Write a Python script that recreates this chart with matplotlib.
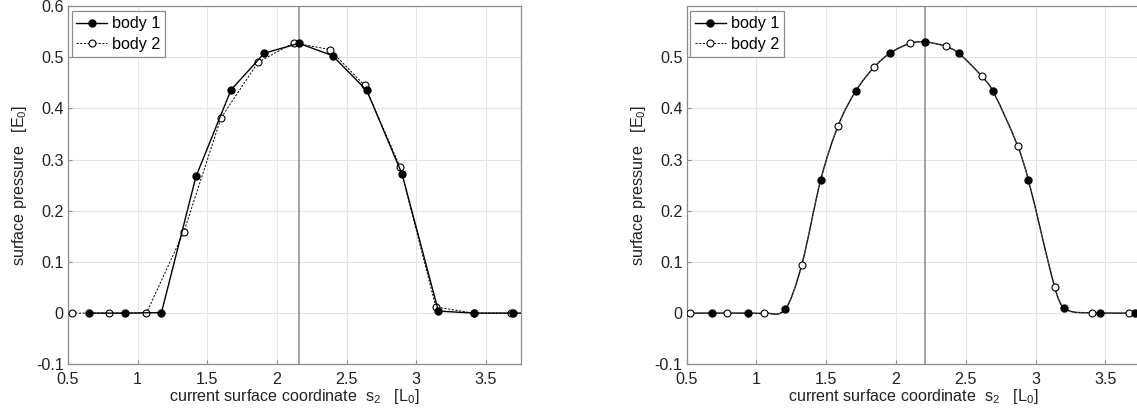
import numpy as np
import matplotlib
matplotlib.use("Agg")
import matplotlib.pyplot as plt
from matplotlib.path import Path
from matplotlib.patches import PathPatch
from matplotlib.lines import Line2D

plt.rcParams["font.family"] = ["Liberation Sans", "DejaVu Sans"]
plt.rcParams["mathtext.fontset"] = "custom"
plt.rcParams["mathtext.rm"] = "Liberation Sans"
plt.rcParams["mathtext.it"] = "Liberation Sans"
plt.rcParams["mathtext.default"] = "regular"

# ---- linear elements (left panel) ----
lin_body1_s = [0.654, 0.909, 1.171, 1.419, 1.670, 1.910, 2.159, 2.399, 2.645, 2.898, 3.159, 3.415, 3.692, 3.94]
lin_body1_p = [0.0, 0.0, 0.001, 0.267, 0.436, 0.508, 0.527, 0.503, 0.435, 0.272, 0.004, 0.0, 0.0, 0.0]
lin_body2_s = [0.526, 0.797, 1.063, 1.332, 1.598, 1.864, 2.120, 2.379, 2.629, 2.885, 3.141, 3.413, 3.679]
lin_body2_p = [0.0, 0.0, 0.0, 0.159, 0.381, 0.490, 0.528, 0.515, 0.445, 0.285, 0.012, 0.0, 0.0]
lin_center = 2.155

# ---- smooth (higher-order) elements (right panel) ----
smo_body1_s = [0.681, 0.940, 1.207, 1.461, 1.712, 1.958, 2.205, 2.448, 2.694, 2.948, 3.202, 3.461, 3.712, 3.96]
smo_body1_p = [0.0, 0.0, 0.008, 0.261, 0.434, 0.508, 0.530, 0.508, 0.434, 0.261, 0.010, 0.0, 0.0, 0.0]
smo_body2_s = [0.526, 0.788, 1.057, 1.324, 1.585, 1.845, 2.101, 2.358, 2.614, 2.873, 3.137, 3.404, 3.671]
smo_body2_p = [0.0, 0.0, 0.0, 0.094, 0.366, 0.481, 0.527, 0.521, 0.463, 0.326, 0.051, 0.0, 0.0]
smo_center = 2.208

xticks = [0.5, 1, 1.5, 2, 2.5, 3, 3.5]
xtick_labels = ["0.5", "1", "1.5", "2", "2.5", "3", "3.5"]
yticks_left = [-0.1, 0, 0.1, 0.2, 0.3, 0.4, 0.5, 0.6]
yticks_right = [-0.1, 0, 0.1, 0.2, 0.3, 0.4, 0.5]
legend_labels = ["body 1", "body 2"]

xlabel = r"current surface coordinate  s$_2$   [L$_0$]"
ylabel = r"surface pressure   [E$_0$]"

FS = 11.6
LINE_C = "black"
DASH = (0, (2.2, 1.6))


def smooth_path(xs, ys):
    """Cubic Bezier path through the nodes with finite-difference tangents."""
    order = np.argsort(xs)
    xs = np.asarray(xs, float)[order]
    ys = np.asarray(ys, float)[order]
    n = len(xs)
    m = np.zeros(n)
    for i in range(n):
        a, b = max(i - 1, 0), min(i + 1, n - 1)
        m[i] = (ys[b] - ys[a]) / (xs[b] - xs[a])
    verts = [(xs[0], ys[0])]
    codes = [Path.MOVETO]
    for i in range(n - 1):
        h = xs[i + 1] - xs[i]
        verts += [(xs[i] + h / 3, ys[i] + m[i] * h / 3),
                  (xs[i + 1] - h / 3, ys[i + 1] - m[i + 1] * h / 3),
                  (xs[i + 1], ys[i + 1])]
        codes += [Path.CURVE4] * 3
    return Path(verts, codes)


def style_axes(ax, yticks):
    ax.set_xlim(0.5, 3.75)
    ax.set_ylim(-0.1, 0.6)
    ax.set_xticks(xticks)
    ax.set_xticklabels(xtick_labels)
    ax.set_yticks(yticks)
    ax.set_yticklabels(["%g" % v for v in yticks])
    ax.grid(True, color="#e4e4e4", lw=0.8, ls="-")
    ax.set_axisbelow(True)
    for sp in ax.spines.values():
        sp.set_color("#8c8c8c")
        sp.set_linewidth(0.9)
    ax.tick_params(direction="in", length=3, color="#8c8c8c", labelsize=FS,
                   labelcolor="#222222")
    ax.tick_params(axis="x", pad=5.5)
    ax.tick_params(axis="y", pad=3)
    # lowest y label sits a touch higher, clear of the first x label
    ax.get_yticklabels()[0].set_y(-0.097)
    ax.set_xlabel(xlabel, fontsize=FS, color="#222222", labelpad=0)
    ax.set_ylabel(ylabel, fontsize=FS, color="#222222", labelpad=5)


def add_legend(ax):
    h1 = Line2D([], [], color=LINE_C, lw=1.0, marker="o", ms=5,
                mfc="black", mec="black")
    h2 = Line2D([], [], color=LINE_C, lw=0.7, ls=DASH, marker="o", ms=5,
                mfc="white", mec="black", mew=0.8)
    leg = ax.legend([h1, h2], legend_labels, loc="upper left",
                    bbox_to_anchor=(0.008, 0.985), fontsize=FS,
                    handlelength=1.9, handletextpad=0.3, labelspacing=0.35,
                    borderpad=0.3, borderaxespad=0.0, fancybox=False,
                    framealpha=1.0, edgecolor="#8c8c8c")
    leg.get_frame().set_linewidth(0.9)


fig = plt.figure(figsize=(11.37, 4.12), dpi=100)
W, H = 1137.0, 412.0
ax1 = fig.add_axes([68 / W, (H - 364.3) / H, 452.7 / W, 358.3 / H])
ax2 = fig.add_axes([686.7 / W, (H - 364.3) / H, 453.5 / W, 358.3 / H])

# left panel: straight segments between nodes
ax1.axvline(lin_center, color="#8a8a8a", lw=1.1, zorder=1.5)
ax1.plot(lin_body2_s, lin_body2_p, color=LINE_C, lw=0.7, ls=DASH,
         marker="o", ms=5, mfc="white", mec="black", mew=0.8, zorder=3)
ax1.plot(lin_body1_s, lin_body1_p, color=LINE_C, lw=1.0,
         marker="o", ms=5, mfc="black", mec="black", zorder=4)
style_axes(ax1, yticks_left)
add_legend(ax1)

# right panel: both bodies share one smooth pressure field through all nodes
all_s = smo_body1_s + smo_body2_s
all_p = smo_body1_p + smo_body2_p
ax2.axvline(smo_center, color="#8a8a8a", lw=1.1, zorder=1.5)
ax2.add_patch(PathPatch(smooth_path(all_s, all_p), fill=False,
                        edgecolor=LINE_C, lw=1.0, zorder=4))
ax2.add_patch(PathPatch(smooth_path(all_s, all_p), fill=False,
                        edgecolor="#555555", lw=0.7, ls=DASH, zorder=4.5))
ax2.plot(smo_body2_s, smo_body2_p, ls="none", marker="o", ms=5,
         mfc="white", mec="black", mew=0.8, zorder=5)
ax2.plot(smo_body1_s, smo_body1_p, ls="none", marker="o", ms=5,
         mfc="black", mec="black", zorder=6)
style_axes(ax2, yticks_right)
add_legend(ax2)

fig.savefig("out.png", dpi=100)
